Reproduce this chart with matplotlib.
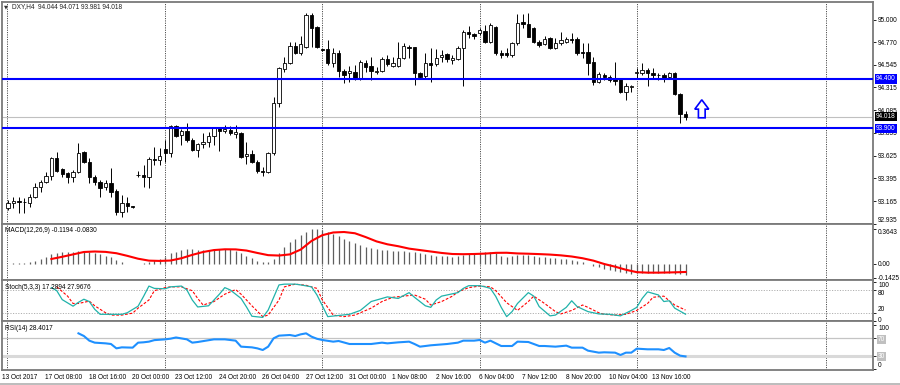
import matplotlib
matplotlib.use('Agg')
import matplotlib.pyplot as plt
import numpy as np
from matplotlib.patches import Polygon
from matplotlib.lines import Line2D

plt.rcParams['font.family'] = ['Liberation Sans', 'DejaVu Sans']

# ---------------- data (DXY, H4) ----------------
opens = [93.095, 93.146, 93.166, 93.151, 93.146, 93.207, 93.308, 93.359, 93.419, 93.602,
         93.490, 93.450, 93.409, 93.460, 93.663, 93.561, 93.409, 93.359, 93.308, 93.348,
         93.267, 93.055, 93.146, 93.110, 93.430, 93.430, 93.409, 93.592, 93.582, 93.693,
         93.652, 93.926, 93.835, 93.875, 93.784, 93.683, 93.744, 93.764, 93.825, 93.906,
         93.875, 93.885, 93.845, 93.855, 93.622, 93.642, 93.561, 93.470, 93.460, 93.652,
         94.159, 94.504, 94.564, 94.737, 94.666, 94.726, 95.051, 94.929, 94.700, 94.706,
         94.564, 94.666, 94.483, 94.463, 94.473, 94.412, 94.564, 94.534, 94.473, 94.483,
         94.605, 94.534, 94.534, 94.615, 94.726, 94.726, 94.463, 94.433, 94.564, 94.554,
         94.625, 94.655, 94.595, 94.605, 94.716, 94.878, 94.858, 94.868, 94.889, 94.777,
         94.929, 94.666, 94.660, 94.645, 94.767, 94.980, 94.959, 94.919, 94.777, 94.757,
         94.818, 94.716, 94.767, 94.777, 94.807, 94.807, 94.676, 94.676, 94.574, 94.372,
         94.443, 94.422, 94.402, 94.402, 94.270, 94.321, 94.463, 94.463, 94.493, 94.463,
         94.443, 94.443, 94.422, 94.463, 94.250, 94.044]
closes = [93.146, 93.166, 93.156, 93.156, 93.207, 93.308, 93.359, 93.419, 93.602, 93.470,
          93.440, 93.409, 93.460, 93.652, 93.561, 93.409, 93.359, 93.298, 93.348, 93.257,
          93.055, 93.146, 93.116, 93.100, 93.425, 93.409, 93.592, 93.582, 93.622, 93.652,
          93.926, 93.825, 93.875, 93.784, 93.683, 93.744, 93.764, 93.825, 93.906, 93.875,
          93.896, 93.855, 93.865, 93.612, 93.642, 93.561, 93.470, 93.460, 93.652, 94.159,
          94.514, 94.564, 94.737, 94.666, 94.757, 95.051, 94.919, 94.726, 94.696, 94.564,
          94.666, 94.483, 94.443, 94.483, 94.412, 94.574, 94.524, 94.483, 94.483, 94.605,
          94.554, 94.564, 94.615, 94.737, 94.716, 94.463, 94.422, 94.564, 94.544, 94.615,
          94.645, 94.605, 94.610, 94.716, 94.878, 94.858, 94.838, 94.899, 94.777, 94.949,
          94.666, 94.645, 94.645, 94.767, 94.970, 94.959, 94.828, 94.777, 94.747, 94.807,
          94.716, 94.767, 94.797, 94.807, 94.797, 94.666, 94.666, 94.564, 94.372, 94.453,
          94.422, 94.392, 94.382, 94.270, 94.331, 94.331, 94.468, 94.493, 94.463, 94.443,
          94.438, 94.412, 94.463, 94.250, 94.048, 94.018]
highs = [93.176, 93.207, 93.207, 93.196, 93.237, 93.348, 93.379, 93.460, 93.612, 93.663,
         93.500, 93.460, 93.480, 93.754, 93.673, 93.602, 93.430, 93.379, 93.379, 93.500,
         93.288, 93.227, 93.207, 93.116, 93.470, 93.531, 93.612, 93.713, 93.703, 93.784,
         93.936, 93.936, 93.896, 93.956, 93.804, 93.754, 93.855, 93.865, 93.916, 93.916,
         93.936, 93.926, 93.936, 93.865, 93.764, 93.683, 93.582, 93.511, 93.663, 94.220,
         94.524, 94.625, 94.777, 94.777, 94.838, 95.071, 95.071, 94.939, 94.706, 94.797,
         94.716, 94.696, 94.504, 94.534, 94.544, 94.595, 94.595, 94.625, 94.524, 94.625,
         94.645, 94.625, 94.777, 94.767, 94.747, 94.726, 94.473, 94.666, 94.716, 94.706,
         94.696, 94.666, 94.645, 94.737, 94.899, 94.939, 94.868, 94.919, 94.949, 94.970,
         94.939, 94.696, 94.716, 94.777, 95.061, 95.061, 95.071, 94.929, 94.797, 94.838,
         94.828, 94.818, 94.878, 94.828, 94.868, 94.828, 94.767, 94.767, 94.625, 94.473,
         94.463, 94.443, 94.574, 94.412, 94.362, 94.341, 94.514, 94.564, 94.514, 94.514,
         94.463, 94.463, 94.473, 94.473, 94.260, 94.071]
lows = [93.075, 93.095, 93.045, 93.045, 93.105, 93.196, 93.257, 93.348, 93.379, 93.460,
        93.409, 93.348, 93.359, 93.450, 93.551, 93.348, 93.328, 93.207, 93.278, 93.207,
        93.024, 93.004, 93.055, 93.095, 93.409, 93.308, 93.298, 93.531, 93.531, 93.561,
        93.612, 93.815, 93.733, 93.764, 93.673, 93.612, 93.703, 93.713, 93.733, 93.673,
        93.855, 93.835, 93.804, 93.602, 93.541, 93.551, 93.450, 93.419, 93.450, 93.632,
        94.119, 94.473, 94.554, 94.655, 94.645, 94.716, 94.726, 94.716, 94.686, 94.544,
        94.524, 94.422, 94.362, 94.372, 94.392, 94.392, 94.473, 94.392, 94.453, 94.473,
        94.534, 94.524, 94.524, 94.605, 94.615, 94.341, 94.412, 94.412, 94.372, 94.534,
        94.574, 94.574, 94.554, 94.595, 94.331, 94.818, 94.807, 94.848, 94.767, 94.767,
        94.645, 94.615, 94.625, 94.625, 94.747, 94.919, 94.828, 94.767, 94.726, 94.747,
        94.706, 94.706, 94.747, 94.767, 94.767, 94.645, 94.615, 94.443, 94.341, 94.362,
        94.392, 94.372, 94.341, 94.260, 94.189, 94.270, 94.402, 94.443, 94.331, 94.402,
        94.392, 94.372, 94.412, 94.240, 93.956, 93.981]

macd_hist = [0.0, 0.007, 0.007, 0.01, 0.018, 0.035, 0.056, 0.07, 0.10, 0.119,
             0.122, 0.122, 0.13, 0.137, 0.137, 0.13, 0.116, 0.10, 0.088, 0.07,
             0.042, 0.018, 0.004, -0.003, 0.004, 0.014, 0.025, 0.039, 0.056, 0.077,
             0.112, 0.13, 0.144, 0.154, 0.154, 0.15, 0.15, 0.15, 0.154, 0.158,
             0.158, 0.154, 0.14, 0.112, 0.084, 0.06, 0.035, 0.018, 0.021, 0.056,
             0.119, 0.175, 0.228, 0.263, 0.30, 0.336, 0.36, 0.3643, 0.354, 0.333,
             0.312, 0.287, 0.263, 0.238, 0.214, 0.196, 0.182, 0.168, 0.158, 0.15,
             0.144, 0.14, 0.137, 0.133, 0.13, 0.126, 0.112, 0.10, 0.095, 0.088,
             0.08, 0.08, 0.077, 0.084, 0.095, 0.105, 0.112, 0.116, 0.122, 0.126,
             0.112, 0.088, 0.077, 0.084, 0.095, 0.098, 0.091, 0.08, 0.077, 0.074,
             0.067, 0.06, 0.052, 0.049, 0.042, 0.035, 0.018, -0.004, -0.021, -0.035,
             -0.049, -0.063, -0.077, -0.088, -0.098, -0.105, -0.098, -0.095, -0.095, -0.095,
             -0.095, -0.095, -0.098, -0.10, -0.105, -0.1194]

signal_idx = [8, 10, 12, 14, 16, 18, 20, 22, 24, 26, 28, 30, 32, 34, 36, 38, 40, 42, 44, 46,
              48, 50, 52, 54, 56, 58, 60, 62, 64, 66, 68, 70, 72, 74, 76, 78, 80, 82, 84, 86,
              88, 90, 92, 94, 96, 98, 100, 102, 104, 106, 108, 110, 112, 114, 116, 118, 120,
              122, 124, 125]
signal_val = [0.052, 0.075, 0.10, 0.125, 0.13, 0.126, 0.112, 0.085, 0.055, 0.035, 0.032, 0.036,
              0.06, 0.095, 0.125, 0.145, 0.153, 0.152, 0.14, 0.115, 0.092, 0.088, 0.10, 0.15,
              0.24, 0.30, 0.328, 0.333, 0.32, 0.28, 0.235, 0.205, 0.185, 0.16, 0.145, 0.13,
              0.115, 0.104, 0.102, 0.104, 0.108, 0.116, 0.117, 0.11, 0.107, 0.103, 0.098,
              0.09, 0.078, 0.06, 0.035, 0.0, -0.028, -0.06, -0.085, -0.09, -0.09, -0.088,
              -0.085, -0.083]

stoch_k_idx = [8, 9, 10, 12, 13, 14, 15, 16, 17, 19, 21, 22, 24, 25, 26, 27, 29, 30, 32, 33,
               34, 35, 37, 39, 40, 41, 43, 44, 45, 47, 48, 50, 51, 53, 54, 56, 57, 59, 61, 63,
               65, 67, 69, 70, 72, 74, 75, 77, 78, 79, 80, 82, 83, 84, 85, 87, 88, 89, 90, 91,
               92, 93, 94, 96, 97, 98, 100, 101, 103, 104, 105, 107, 109, 111, 112, 113, 115,
               116, 117, 118, 120, 121, 122, 123, 125]
stoch_k_val = [86, 78, 55, 38, 48, 56, 50, 30, 17, 17, 17, 21, 38, 63, 90, 84, 83, 88, 90, 80,
               54, 36, 39, 69, 86, 80, 58, 36, 12, 9, 28, 93, 95, 95, 93, 88, 67, 11, 14, 17,
               27, 50, 58, 62, 58, 73, 61, 39, 35, 54, 64, 70, 73, 84, 91, 91, 88, 84, 63, 35,
               11, 24, 45, 73, 64, 37, 13, 15, 35, 52, 37, 24, 18, 17, 15, 13, 27,
               35, 58, 75, 67, 50, 52, 33, 17.2894]
stoch_d_idx = [9, 11, 12, 13, 15, 16, 18, 19, 21, 23, 24, 26, 27, 29, 30, 32, 34, 35, 36, 38,
               40, 42, 43, 45, 47, 48, 50, 51, 53, 55, 57, 58, 60, 62, 64, 65, 67, 69, 71, 73,
               75, 77, 78, 80, 82, 83, 85, 87, 89, 90, 92, 94, 96, 97, 99, 101, 102, 104, 106,
               107, 109, 110, 112, 114, 116, 118, 119, 121, 122, 123, 125]
stoch_d_val = [88, 64, 45, 45, 51, 39, 21, 15, 15, 20, 33, 54, 78, 86, 88, 88, 78, 58, 41, 50,
               69, 81, 69, 39, 11, 15, 54, 88, 95, 92, 84, 54, 15, 11, 15, 21, 33, 50, 61, 64,
               67, 56, 41, 50, 64, 75, 86, 90, 88, 78, 47, 27, 50, 64, 45, 24, 18, 27, 41,
               35, 21, 17, 15, 17, 27, 45, 61, 64, 52, 41, 27.9676]

rsi_idx = [13, 14, 15, 16, 18, 19, 20, 21, 23, 24, 25, 26, 27, 29, 30, 31, 33, 34, 35, 38,
           40, 42, 43, 45, 46, 47, 48, 49, 50, 52, 53, 54, 55, 56, 57, 58, 60, 61, 63, 64,
           67, 69, 70, 72, 74, 75, 76, 77, 78, 81, 83, 84, 86, 87, 88, 89, 90, 91, 93, 94,
           96, 97, 98, 99, 101, 103, 104, 106, 107, 109, 110, 112, 113, 114, 115, 116, 118,
           120, 121, 122, 123, 124, 125]
rsi_val = [81.5, 75.4, 64.7, 60.1, 58.5, 57, 47, 49.3, 48.6, 60.1, 60.9, 62.4, 65.9, 67.7, 69.3,
           72, 67.7, 60.1, 61.6, 67.7, 67.7, 64.7, 50.9, 49.3, 47, 43.2, 50.9, 70, 76.2, 77.7,
           75.4, 79.2, 81.5, 73.9, 69, 66.2, 62.4, 63.9, 57, 57, 57, 60.1, 58.5, 60.8, 62.4,
           57, 50.9, 52.4, 54, 57, 60.1, 64.7, 64.7, 66.2, 60.1, 64.7, 58.5, 52.4, 52.4, 62.4,
           61.6, 57, 52.4, 52.4, 50.9, 53.2, 48.6, 48.6, 41.7, 37.1, 37.9, 37.1, 31.7, 37.1,
           37.1, 46.3, 44.8, 44.8, 43.2, 47.8, 37.1, 30.2, 28.4017]

price_ticks = [95.000, 94.770, 94.545, 94.315, 94.085, 93.855, 93.625, 93.395, 93.165, 92.935]
levels = [94.400, 93.900]
last_price = 94.018
time_labels = ['13 Oct 2017', '17 Oct 08:00', '18 Oct 16:00', '20 Oct 00:00', '23 Oct 12:00',
               '24 Oct 20:00', '26 Oct 04:00', '27 Oct 12:00', '31 Oct 00:00', '1 Nov 08:00',
               '2 Nov 16:00', '6 Nov 04:00', '7 Nov 12:00', '8 Nov 20:00', '10 Nov 04:00',
               '13 Nov 16:00']
grid_bars = [-0.2, 29, 58, 87, 116, 151]
arrow_x, arrow_base, arrow_top = 128.0, 94.007, 94.189

# ---------------- layout ----------------
W, H = 900, 385
fig = plt.figure(figsize=(9, 3.85), dpi=100)
fig.patch.set_facecolor('white')
FS = 4.7
SPINE = '#7a7a7a'


def ax_at(top, bottom):
    return fig.add_axes([2 / W, 1 - bottom / H, 871 / W, (bottom - top) / H])


ax = ax_at(2, 224)
axm = ax_at(224, 280)
axs = ax_at(280, 321)
axr = ax_at(321, 370)

x = np.arange(len(opens))
XL = (-1.107, 159.59)
for a in (ax, axm, axs, axr):
    a.set_xlim(*XL)
    a.set_xticks([])
    a.yaxis.tick_right()
    a.tick_params(axis='y', direction='out', length=2.5, width=0.6, pad=1.2,
                  labelsize=FS, colors='black')
    for s in a.spines.values():
        s.set_color(SPINE)
        s.set_linewidth(1.3)
    for g in grid_bars:
        a.axvline(g, color='#505050', lw=0.7, ls=(0, (1.2, 1.2)), zorder=0.5)

# ---------------- main price panel ----------------
ax.set_ylim(92.933, 95.178)
o = np.array(opens); c = np.array(closes); h = np.array(highs); l = np.array(lows)
bull = c >= o
ax.vlines(x, l, h, color='black', lw=0.7, zorder=2)
ax.bar(x[bull], (c - o)[bull], bottom=o[bull], width=0.62, color='white',
       edgecolor='black', linewidth=0.6, zorder=3)
ax.bar(x[~bull], (o - c)[~bull], bottom=c[~bull], width=0.62, color='black',
       edgecolor='black', linewidth=0.6, zorder=3)
ax.axhline(last_price, color='#c0c0c0', lw=0.8, zorder=1)
for lv in levels:
    ax.axhline(lv, color='#0000ff', lw=1.5, zorder=4)
ax.set_yticks(price_ticks)
ax.set_yticklabels(['%.3f' % p for p in price_ticks])
ax.get_yticklabels()[-1].set_va('bottom')
for lv in levels:
    ax.text(1.0035, lv, '%.3f' % lv, transform=ax.get_yaxis_transform(), ha='left',
            va='center', fontsize=FS, color='white', zorder=6,
            bbox=dict(boxstyle='square,pad=0.18', fc='#0000ff', ec='none'))
ax.text(1.0035, last_price, '%.3f' % last_price, transform=ax.get_yaxis_transform(),
        ha='left', va='center', fontsize=FS, color='white', zorder=6,
        bbox=dict(boxstyle='square,pad=0.18', fc='black', ec='none'))

hw, sw = 1.29, 0.62
head_base = arrow_base + (arrow_top - arrow_base) * 0.48
arrow = Polygon([(arrow_x, arrow_top), (arrow_x + hw, head_base), (arrow_x + sw, head_base),
                 (arrow_x + sw, arrow_base), (arrow_x - sw, arrow_base),
                 (arrow_x - sw, head_base), (arrow_x - hw, head_base)],
                closed=True, fc='white', ec='#0000ff', lw=1.2, zorder=5)
ax.add_patch(arrow)

fig.text(3.5 / W, 1 - 7 / H, '\u25bc', fontsize=3.6, family='DejaVu Sans', va='center',
         color='#303030')
fig.text(12 / W, 1 - 7 / H, 'DXY,H4  94.044 94.071 93.981 94.018', fontsize=FS,
         va='center', color='#202020')

# ---------------- MACD ----------------
axm.set_ylim(-0.1666, 0.4163)
axm.vlines(x, 0, macd_hist, color='#5e5e5e', lw=0.9, zorder=2)
axm.plot(signal_idx, signal_val, color='#ff0000', lw=1.5, zorder=3)
axm.set_yticks([0.3643, 0.0, -0.1425])
axm.set_yticklabels(['0.3643', '0.00', '-0.1425'])
axm.get_yticklabels()[0].set_va('top')
axm.get_yticklabels()[2].set_va('center_baseline')
fig.text(5 / W, 1 - 231 / H, 'MACD(12,26,9) -0.1194 -0.0830', fontsize=FS, va='center')

# ---------------- Stochastic ----------------
axs.set_ylim(-0.3, 105.7)
for lv in (80, 20):
    axs.axhline(lv, color='#b0b0b0', lw=0.7, ls=(0, (1.2, 1.5)), zorder=1)
axs.plot(stoch_k_idx, stoch_k_val, color='#20b2aa', lw=0.9, zorder=3)
axs.plot(stoch_d_idx, stoch_d_val, color='#ff0000', lw=0.8, ls=(0, (2.5, 1.5)), zorder=2)
axs.set_yticks([100, 80, 20, 0])
axs.set_yticklabels(['100', '80', '20', '0'])
tl = axs.get_yticklabels()
tl[0].set_va('top'); tl[1].set_va('top')
tl[2].set_va('bottom'); tl[3].set_va('center')
fig.text(5 / W, 1 - 287.5 / H, 'Stoch(5,3,3) 17.2894 27.9676', fontsize=FS, va='center')

# ---------------- RSI ----------------
axr.set_ylim(-2.8, 109.9)
axr.axhline(70, color='#c4c4c4', lw=0.9, zorder=1)
axr.axhline(30, color='#d9d9d9', lw=2.2, zorder=1)
axr.plot(rsi_idx, rsi_val, color='#1e90ff', lw=1.5, zorder=3)
axr.set_yticks([100, 70, 30, 0])
axr.set_yticklabels(['100', '70', '30', '0'])
tl = axr.get_yticklabels()
tl[0].set_va('top'); tl[3].set_va('bottom')
for t in (tl[1], tl[2]):
    t.set_color('white')
    t.set_bbox(dict(boxstyle='square,pad=0.15', fc='#c0c0c0', ec='none'))
fig.text(5 / W, 1 - 329 / H, 'RSI(14) 28.4017', fontsize=FS, va='center')

# time axis labels every 8 bars
for k, lab in enumerate(time_labels):
    axr.text(8 * k - 1.1, -0.143, lab, transform=axr.get_xaxis_transform(), ha='left',
             va='center', fontsize=FS, clip_on=False)

fig.add_artist(Line2D([0, 1], [1 - 384 / H] * 2, color='#b0b0b0', lw=1.2))

fig.savefig('out.png', dpi=100, facecolor='white')
